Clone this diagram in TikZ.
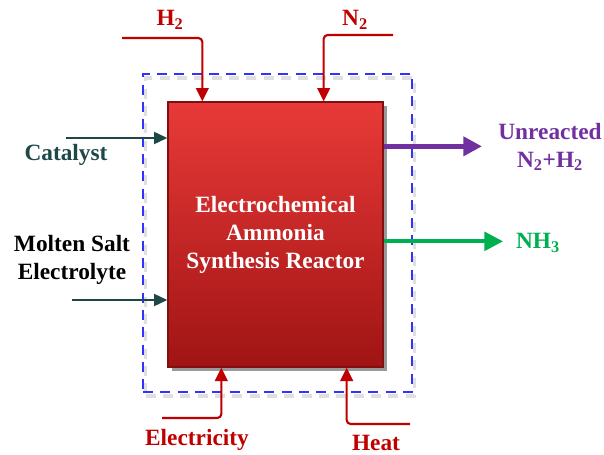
\documentclass[tikz,border=0pt]{standalone}
\usepackage{fontspec}
\setmainfont{Liberation Serif}
\usetikzlibrary{arrows.meta,shadows,calc}
\definecolor{arred}{RGB}{192,0,0}
\definecolor{cattl}{RGB}{30,72,72}
\definecolor{purp}{RGB}{112,48,160}
\definecolor{grn}{RGB}{0,176,80}
\definecolor{dashblue}{RGB}{50,50,255}
\definecolor{rtop}{RGB}{232,58,56}
\definecolor{rbot}{RGB}{160,20,20}
\definecolor{rbord}{RGB}{130,15,15}
\begin{document}
\begin{tikzpicture}[x=0.75pt,y=-0.75pt,
  lbl/.style={font=\fontsize{17.5}{21}\selectfont\bfseries, inner sep=0pt, align=center},
  redarrow/.style={draw=arred, line width=1.6pt, rounded corners=3pt, -{Triangle[length=10pt,width=9.5pt]}},
  tealarrow/.style={draw=cattl, line width=1.6pt, -{Triangle[length=10pt,width=9pt]}},
  outarrow/.style={line width=#1, -{Triangle[length=14pt,width=14pt]}},
  dashbox/.style={line width=1.3pt, dash pattern=on 7.5pt off 5.5pt,
      minimum width=201.75pt, minimum height=238.5pt, inner sep=0pt},
]
\useasboundingbox (0,0) rectangle (604,454);
% dashed envelope with soft shadow of the dashes
\node[dashbox, draw=gray, opacity=0.25, line width=2.5pt] (Bs) at (280,237) {};
\node[dashbox, draw=dashblue] (B) at (277.5,233) {};
% reactor
\node[draw=rbord, line width=1pt, top color=rtop, bottom color=rbot,
      minimum width=161.25pt, minimum height=198.75pt, inner sep=0pt,
      drop shadow={shadow xshift=3pt, shadow yshift=-3pt, opacity=0.4, fill=black},
      text=white, lbl] (R) at (275.5,234.5)
      {Electrochemical\\Ammonia\\Synthesis Reactor};
% labels
\node[lbl, text=arred] (H2) at (170,20) {H\textsubscript{2}};
\node[lbl, text=arred] (N2) at (355,20) {N\textsubscript{2}};
\node[lbl, text=cattl] (cat) at (66,155) {Catalyst};
\node[lbl, text=black] (ms) at (72,260) {Molten Salt\\Electrolyte};
\node[lbl, text=purp] (un) at (550,147) {Unreacted\\N\textsubscript{2}+H\textsubscript{2}};
\node[lbl, text=grn] (nh3) at (538,243) {NH\textsubscript{3}};
\node[lbl, text=arred] (el) at (197,440) {Electricity};
\node[lbl, text=arred] (ht) at (376,443) {Heat};
% free ends
\coordinate (h2s) at (122,38);
\coordinate (n2s) at (393,35);
\coordinate (cats) at (66,138);
\coordinate (mss) at (72,300);
\coordinate (els) at (162,418);
\coordinate (hts) at (410,424);
\coordinate (une) at (482,0);
\coordinate (nhe) at (503,0);
% inputs
\draw[redarrow] (h2s) -| ([xshift=26.25pt]R.north west);
\draw[redarrow] (n2s) -| ([xshift=-45pt]R.north east);
\draw[redarrow] (els) -| ([xshift=40.5pt]R.south west);
\draw[redarrow] (hts) -| ([xshift=-27.75pt]R.south east);
\draw[tealarrow] (cats) -- (cats -| R.west);
\draw[tealarrow] (mss) -- (mss -| R.west);
% outputs
\coordinate (po) at ([yshift=-33.75pt]R.north east);
\coordinate (go) at ([yshift=-105pt]R.north east);
\draw[outarrow=3.6pt, draw=purp, fill=purp] (po) -- (po -| une);
\draw[outarrow=2.8pt, draw=grn, fill=grn] (go) -- (go -| nhe);
\end{tikzpicture}
\end{document}
